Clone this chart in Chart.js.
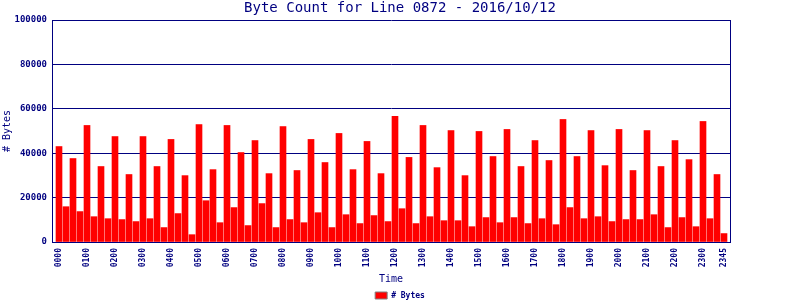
<!DOCTYPE html>
<html><head><meta charset="utf-8">
<script src="https://cdn.jsdelivr.net/npm/chart.js@4/dist/chart.umd.min.js"></script>
<style>html,body{margin:0;padding:0;background:#fff;} #wrap{width:800px;height:300px;position:relative;}</style>
</head><body><div id="wrap"><canvas id="c" width="800" height="300"></canvas></div>
<script>
const times = [
 '0000','0015','0030','0045','0100','0115','0130','0145','0200','0215','0230','0245',
 '0300','0315','0330','0345','0400','0415','0430','0445','0500','0515','0530','0545',
 '0600','0615','0630','0645','0700','0715','0730','0745','0800','0815','0830','0845',
 '0900','0915','0930','0945','1000','1015','1030','1045','1100','1115','1130','1145',
 '1200','1215','1230','1245','1300','1315','1330','1345','1400','1415','1430','1445',
 '1500','1515','1530','1545','1600','1615','1630','1645','1700','1715','1730','1745',
 '1800','1815','1830','1845','1900','1915','1930','1945','2000','2015','2030','2045',
 '2100','2115','2130','2145','2200','2215','2230','2245','2300','2315','2330','2345'
];
const bytes = [
 43000,15900,37600,13700,52500,11400,34000,10500,47500,10100,30400,9200,
 47500,10500,34000,6500,46200,12800,29900,3300,52900,18600,32600,8700,
 52500,15500,40300,7400,45700,17300,30800,6500,52000,10100,32200,8700,
 46200,13200,35800,6500,48900,12300,32600,8300,45300,11900,30800,9200,
 56600,15000,38100,8300,52500,11400,33500,9600,50200,9600,29900,6900,
 49800,11000,38500,8700,50700,11000,34000,8300,45700,10500,36700,7800,
 55200,15500,38500,10500,50200,11400,34400,9200,50700,10100,32200,10100,
 50200,12300,34000,6500,45700,11000,37100,6900,54300,10500,30400,3800
];
const xTickLabels = ['0000','0100','0200','0300','0400','0500','0600','0700','0800','0900','1000','1100',
 '1200','1300','1400','1500','1600','1700','1800','1900','2000','2100','2200','2300','2345'];
const yTicks = [0,20000,40000,60000,80000,100000];
const titleText = 'Byte Count for Line 0872 - 2016/10/12';
const seriesName = '# Bytes';
const xTitle = 'Time';
const yTitle = '# Bytes';

const NAVY = '#000080';
const RED = '#ff0000';
const MONO = 'DejaVu Sans Mono';

new Chart(document.getElementById('c'), {
  type: 'bar',
  data: {
    datasets: [{
      label: seriesName,
      data: bytes.map((v, i) => ({x: i, y: v})),
      backgroundColor: RED,
      borderWidth: 0,
      barThickness: 6
    }]
  },
  options: {
    responsive: false,
    animation: false,
    devicePixelRatio: 1,
    layout: {padding: 0},
    scales: {
      x: {
        type: 'linear', min: -1, max: 95.857, offset: false,
        grid: {display: false, drawTicks: false, offset: false},
        border: {display: true, color: NAVY, width: 1},
        afterBuildTicks: s => { s.ticks = xTickLabels.map(l => ({value: times.indexOf(l)})); },
        afterFit: s => { s.height = 48; },
        ticks: {autoSkip: false, minRotation: 90, maxRotation: 90, padding: 6, color: NAVY,
          font: {family: MONO, size: 8, weight: 'bold'}, callback: v => times[v]},
        title: {display: true, text: xTitle, color: NAVY, font: {family: MONO, size: 10}, padding: {top: 0, bottom: 5}}
      },
      y: {
        min: 0, max: 100000,
        afterBuildTicks: s => { s.ticks = yTicks.map(v => ({value: v})); },
        afterFit: s => { s.width = 52; },
        grid: {color: NAVY, lineWidth: 1, drawTicks: false},
        border: {display: true, color: NAVY, width: 1},
        ticks: {padding: 5, color: NAVY, font: {family: MONO, size: 9, weight: 'bold'}, callback: v => String(v)},
        title: {display: true, text: yTitle, color: NAVY, font: {family: MONO, size: 10}, padding: {top: 1.5, bottom: 0}}
      },
      y2: {
        position: 'right',
        grid: {display: false, drawTicks: false},
        border: {display: true, color: NAVY, width: 1},
        ticks: {display: false},
        afterFit: s => { s.width = 70; }
      }
    },
    plugins: {
      title: {display: true, text: titleText, color: NAVY, font: {family: MONO, size: 14, weight: 'normal'},
        padding: {top: 0, bottom: 3.2}},
      legend: {
        display: true, position: 'bottom', maxHeight: 10,
        labels: {
          boxWidth: 12, boxHeight: 7, padding: 1.5, color: NAVY,
          font: {family: MONO, size: 8, weight: 'bold'},
          generateLabels: chart => Chart.defaults.plugins.legend.labels.generateLabels(chart)
            .map(l => Object.assign(l, {strokeStyle: '#808080', lineWidth: 1}))
        }
      },
      tooltip: {enabled: false}
    }
  }
});
</script>
</body></html>
